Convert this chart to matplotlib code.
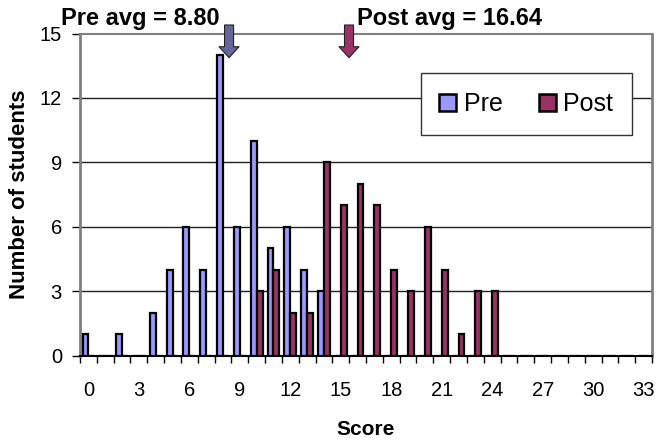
import numpy as np
import matplotlib
matplotlib.use("Agg")
import matplotlib.pyplot as plt

plt.rcParams['font.family'] = ['Liberation Sans', 'DejaVu Sans']

scores = list(range(0, 34))
pre_counts = [1, 0, 1, 0, 2, 4, 6, 4, 14, 6, 10, 5, 6, 4, 3] + [0] * 19
post_counts = [0] * 10 + [3, 4, 2, 2, 9, 7, 8, 7, 4, 3, 6, 4, 1, 3, 3] + [0] * 9
series_names = ["Pre", "Post"]
pre_avg_text = "Pre avg = 8.80"
post_avg_text = "Post avg = 16.64"
arrow_x = [8.36, 15.49]
y_ticks = [0, 3, 6, 9, 12, 15]
x_label_ticks = list(range(0, 34, 3))

pre_color = '#9999FF'
post_color = '#993366'
pre_arrow_color = '#666699'

W, H = 657, 443
fig = plt.figure(figsize=(W / 100, H / 100), dpi=100)
ax = fig.add_axes([80 / W, 1 - 355.7 / H, 572 / W, (355.7 - 33.5) / H])

x = np.array(scores)
bw = 0.35
ax.bar(x - bw, pre_counts, width=bw, align='edge', color=pre_color,
       edgecolor='black', linewidth=1.6, zorder=3, label=series_names[0])
ax.bar(x, post_counts, width=bw, align='edge', color=post_color,
       edgecolor='black', linewidth=1.6, zorder=3, label=series_names[1])

ax.set_xlim(-0.5, 33.5)
ax.set_ylim(0, 15)

for yv in y_ticks[1:-1]:
    ax.axhline(yv, color='#202020', linewidth=1, zorder=1)

ax.set_yticks(y_ticks)
ax.set_yticklabels([str(v) for v in y_ticks], fontsize=14.5)
ax.tick_params(axis='y', direction='out', length=6, width=1, pad=7, colors='black')

ax.set_xticks(np.arange(-0.5, 34, 1))
ax.set_xticklabels([])
ax.tick_params(axis='x', which='major', direction='out', length=5, width=1, color='black')
ax.set_xticks(x_label_ticks, minor=True)
ax.set_xticklabels([str(v) for v in x_label_ticks], minor=True, fontsize=14.5)
ax.tick_params(axis='x', which='minor', length=0, pad=18)

for side in ['left', 'right', 'top']:
    ax.spines[side].set_color('#808080')
ax.spines['left'].set_linewidth(2)
ax.spines['right'].set_linewidth(2)
ax.spines['top'].set_linewidth(1.5)
ax.spines['bottom'].set_color('black')
ax.spines['bottom'].set_linewidth(1.5)

# labels
fig.text(19.5 / W, 1 - 194.6 / H, "Number of students", rotation=90,
         ha='center', va='center', fontsize=16, fontweight='bold')
fig.text(366 / W, 8 / H, "Score", ha='center', va='baseline',
         fontsize=15, fontweight='bold')

fig.text(61 / W, 1 - 25 / H, pre_avg_text, ha='left', va='baseline',
         fontsize=17, fontweight='bold')
fig.text(357 / W, 1 - 25 / H, post_avg_text, ha='left', va='baseline',
         fontsize=17, fontweight='bold')

# arrows
for xa, col in zip(arrow_x, [pre_arrow_color, post_color]):
    ax.annotate('', xy=(xa, H - 57.7), xycoords=('data', 'figure pixels'),
                xytext=(xa, H - 25), textcoords=('data', 'figure pixels'),
                arrowprops=dict(arrowstyle='simple,head_length=7.9,head_width=14.4,tail_width=6.5',
                                mutation_scale=1, facecolor=col, edgecolor='#222222',
                                linewidth=0.8, shrinkA=0, shrinkB=0),
                annotation_clip=False, zorder=5)

leg = fig.legend(loc='upper left', bbox_to_anchor=(420.7 / W, 1 - 73.3 / H),
                 ncol=2, fontsize=18, frameon=True, fancybox=False,
                 handlelength=0.67, handleheight=0.67, handletextpad=0.3,
                 columnspacing=1.45, borderpad=0.75, borderaxespad=0)
leg.get_frame().set_edgecolor('#333333')
leg.get_frame().set_linewidth(1)
leg.get_frame().set_alpha(1)
for h in leg.legend_handles:
    h.set_linewidth(1.8)

fig.savefig('out.png', dpi=100)
